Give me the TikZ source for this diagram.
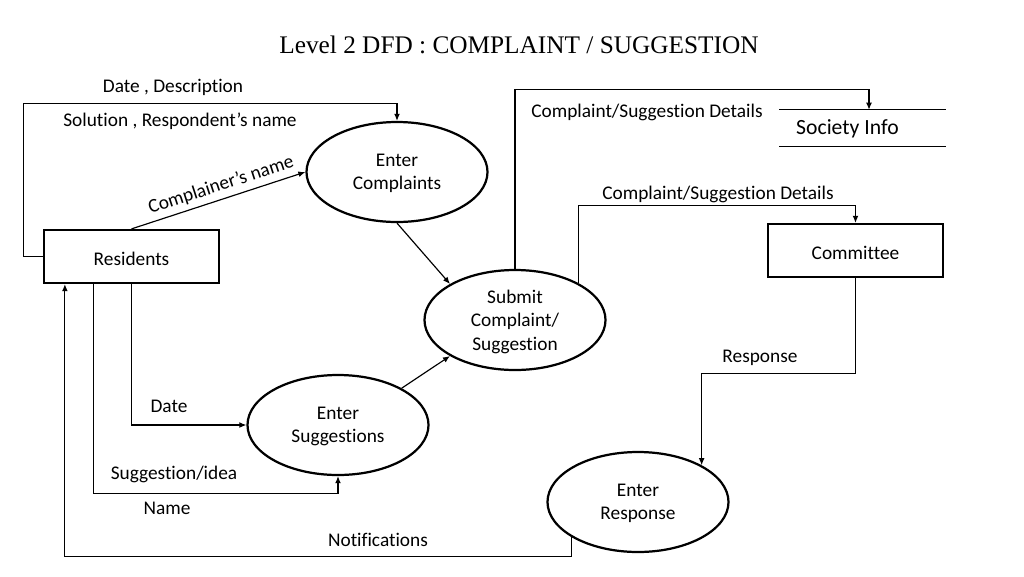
\documentclass[tikz,border=0pt]{standalone}
\usepackage{fontspec}
\setmainfont{Carlito}[RawFeature=-liga]
\newfontfamily\titlefont{Liberation Serif}
\usepackage{tikz}
\usetikzlibrary{shapes, arrows.meta, positioning, calc}

\begin{document}
\begin{tikzpicture}[x=0.03cm, y=-0.03cm,
  process/.style={ellipse, draw, line width=1.9pt, minimum width=5.43cm, minimum height=3cm,
    inner sep=0pt, align=center, text depth=0pt, font=\fontsize{16.5}{20}\selectfont},
  entity/.style={rectangle, draw, line width=1.9pt, minimum width=5.25cm, minimum height=1.59cm,
    text height=15pt, text depth=0pt, font=\fontsize{16.5}{20}\selectfont},
  store/.style={inner xsep=0pt, minimum height=1.05cm, font=\fontsize{18.5}{22}\selectfont},
  flow/.style={line width=1pt, -{Latex[length=6pt,width=5pt]}},
  lbl/.style={inner sep=0pt, font=\fontsize{16.5}{20}\selectfont}]
\useasboundingbox (0,0) rectangle (1024,576);

% title
\node[font=\titlefont\fontsize{21.6}{26}\selectfont] (title) at (519,45) {Level 2 DFD : COMPLAINT / SUGGESTION};

% processes
\node[process] (enc) at (397,172) {Enter\\Complaints};
\node[process] (sub) at (515,320) {Submit\\Complaint/\\Suggestion};
\node[process] (ens) at (338,425) {Enter\\Suggestions};
\node[process] (enr) at (638,502) {Enter\\Response};

% external entities
\node[entity] (res) at (131.5,256.5) {Residents};
\node[entity] (cm) at (855.5,250.5) {Committee};

% data store
\node[store, anchor=west] (si) at (796,128.5) {Society Info};
\draw[line width=1.2pt] ($(si.north west)+(-17,-1)$) -- ++(167,0);
\draw[line width=1.2pt] ($(si.south west)+(-17,0)$) -- ++(167,0);

% flows from residents
\draw[flow] (res.west) -- ++(-19,0) -- ++(0,-153) -| (enc.north);
\draw[flow] (res.north) -- node[lbl, sloped, above=4pt, pos=0.54] (lcn) {Complainer’s name} (enc.west);
\draw[flow] (res.south) |- (ens.west);
\draw[flow] ($(res.south west)+(51,0)$) -- ++(0,209) -| (ens.south);

% into submit
\draw[flow] (enc.south) -- (sub.151);
\draw[flow] (ens.30) -- (sub.209);

% out of submit
\draw[flow] (sub.north) -- ++(0,-179) -| ($(si.north west)+(73,-1)$);
\draw[flow] (sub.30) -- ++(0,-78) -| (cm.north);

% response back to residents
\draw[flow] (cm.south) -- ++(0,95) -| (enr.30);
\draw[flow] (enr.208) -- ++(0,19) -| ($(res.south west)+(22,0)$);

% flow labels
\node[lbl] (ldd) at (173,87) {Date , Description};
\node[lbl] (lsr) at (180,121) {Solution , Respondent’s name};
\node[lbl] (lcs1) at (647,112) {Complaint/Suggestion Details};
\node[lbl] (lcs2) at (718,194) {Complaint/Suggestion Details};
\node[lbl] (lrp) at (760,358) {Response};
\node[lbl] (ldt) at (169,406) {Date};
\node[lbl] (lsi) at (174,474) {Suggestion/idea};
\node[lbl] (lnm) at (167,508) {Name};
\node[lbl] (lnt) at (378,540) {Notifications};
\end{tikzpicture}
\end{document}
